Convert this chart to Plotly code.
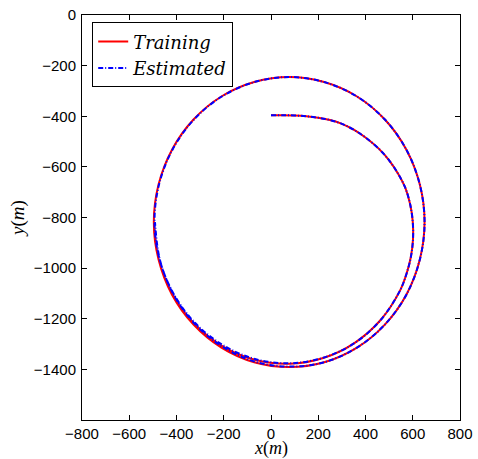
import plotly.graph_objects as go

# Training trajectory (m)
train_x = [0, 50, 100, 150, 200, 250, 300, 350, 400, 456, 500, 538, 569, 589, 600, 601, 592, 573, 546, 464, 353,
           221, 77, -69, -206, -325, -417, -476, -496,
           -476, -419, -328, -210, -71, 77, 225, 364, 482, 573, 630, 650, 630, 573, 482, 364, 225, 77,
           -71, -210, -328, -419, -476, -496]
train_y = [-396, -396, -397, -400, -406, -415, -430, -453, -484, -528, -574, -627, -684, -748, -816, -887, -956,
           -1024, -1089, -1205, -1296, -1355, -1378, -1362, -1308, -1220, -1103, -966, -818,
           -670, -532, -413, -322, -265, -245, -265, -322, -413, -532, -670, -818, -966, -1105, -1223, -1314, -1372,
           -1391, -1372, -1314, -1223, -1105, -966, -818]

# Estimated trajectory (m)
est_x = [0, 50, 100, 150, 200, 250, 300, 350, 400, 456, 500, 538, 569, 589, 600, 601, 592, 573, 546, 464, 354,
         221, 77, -68, -204, -322, -413, -472, -493,
         -474, -417, -326, -208, -70, 77, 225, 364, 482, 573, 630, 650, 630, 573, 482, 364, 225, 77,
         -70, -207, -324, -414, -471, -491]
est_y = [-396, -396, -397, -400, -406, -415, -430, -453, -484, -528, -574, -627, -684, -748, -816, -887, -956,
         -1024, -1089, -1205, -1296, -1354, -1376, -1359, -1304, -1216, -1100, -964, -818,
         -670, -532, -413, -322, -265, -245, -265, -322, -413, -532, -670, -818, -966, -1105, -1223, -1314, -1372,
         -1389, -1369, -1310, -1219, -1102, -964, -818]

x_ticks = [-800, -600, -400, -200, 0, 200, 400, 600, 800]
y_ticks = [0, -200, -400, -600, -800, -1000, -1200, -1400]

fig = go.Figure()
fig.add_trace(go.Scatter(x=train_x, y=train_y, mode="lines", name="<i>Training</i>",
                         line=dict(color="#ff0000", width=2, shape="spline", smoothing=1.0)))
fig.add_trace(go.Scatter(x=est_x, y=est_y, mode="lines", name="<i>Estimated</i>",
                         line=dict(color="#0000ff", width=2, dash="5px,2px,1px,2px", shape="spline", smoothing=1.0)))

serif = "Liberation Serif, DejaVu Serif, serif"
axis_common = dict(showline=True, linecolor="black", linewidth=1, mirror="ticks", ticks="inside", ticklen=5,
                   tickcolor="black", showgrid=False, zeroline=False,
                   tickfont=dict(family="Liberation Sans, Arial, sans-serif", size=15, color="black"))

fig.update_layout(
    width=478, height=459,
    margin=dict(l=82, r=18, t=15, b=39),
    paper_bgcolor="white", plot_bgcolor="white",
    showlegend=True,
    legend=dict(x=0.027, y=0.982, xanchor="left", yanchor="top",
                bgcolor="white", bordercolor="black", borderwidth=1,
                font=dict(family="DejaVu Serif, serif", size=18, color="black"),
                itemwidth=30),
    xaxis=dict(range=[-800, 800], tickvals=x_ticks, ticktext=[str(v).replace("-", "\u2212") for v in x_ticks],
               automargin=False, **axis_common),
    yaxis=dict(range=[-1600, 0], tickvals=y_ticks, ticktext=[str(v).replace("-", "\u2212") for v in y_ticks],
               title=dict(text="<i>y</i>(<i>m</i>)", standoff=4, font=dict(family=serif, size=19, color="black")),
               ticklabelstandoff=2, automargin=False, **axis_common),
    annotations=[dict(text="<i>x</i>(<i>m</i>)", xref="paper", yref="paper", x=0.5, y=-0.098,
                      xanchor="center", yanchor="bottom", showarrow=False, borderpad=0,
                      font=dict(family=serif, size=18, color="black"))],
)

fig.write_html("out.html")
